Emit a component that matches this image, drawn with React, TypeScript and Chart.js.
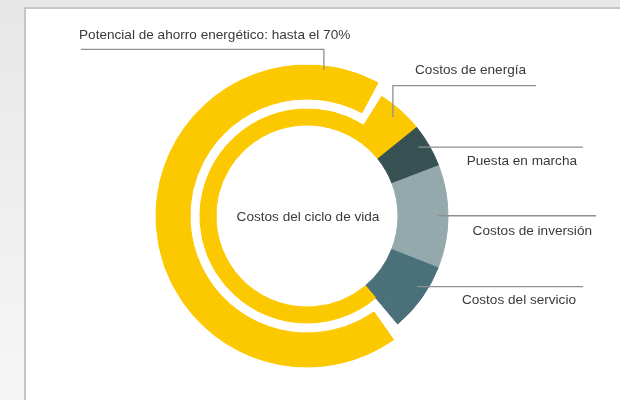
import { useEffect, useRef } from "react";
import { Chart, registerables } from "chart.js";

Chart.register(...registerables);

// ---- data ----
const costLabels = ["Costos de energía", "Puesta en marcha", "Costos de inversión", "Costos del servicio"];
const costShares = [75.3, 5.0, 11.8, 7.9]; // share of the life-cycle cost circle (%)
const savingsLabel = "Potencial de ahorro energético: hasta el 70%";
const savingsShare = 67.5; // outer savings arc (% of circle)
const savingsGaps = [1.4, 1.1]; // white gaps before / after the savings arc (% of circle)
const centerLabel = "Costos del ciclo de vida";

// ---- styles ----
const YELLOW = "#FCC800";
const costColors = [YELLOW, "#375052", "#93A9AC", "#4A707A"];
const NONE = "rgba(0,0,0,0)";
const FONT = '13.6px "Liberation Sans", Arial, sans-serif';
const TEXT = "#3a3a3a";
const LINE = "#8f8f8f";
// where along each segment the leader line attaches (fraction of its angular span)
const anchorFrac = [0.47, 0.4, 0.49, 0.39];

export default function App() {
  const ref = useRef<HTMLCanvasElement | null>(null);

  useEffect(() => {
    if (!ref.current) return;
    const others = costShares.slice(1);
    const otherColors = costColors.slice(1);
    const thinEnergy = savingsGaps[0] + savingsShare + savingsGaps[1];
    const thickEnergy = costShares[0] - thinEnergy;
    const othersSum = others.reduce((a, b) => a + b, 0);

    const ds = (data: number[], colors: string[], weight: number) => ({
      data,
      backgroundColor: colors,
      borderColor: colors,
      borderWidth: 1,
      weight,
    });

    const datasets = [
      ds([thickEnergy + othersSum, savingsGaps[0], savingsShare, savingsGaps[1]], [NONE, NONE, YELLOW, NONE], 10),
      ds([thickEnergy, ...others, savingsGaps[0], savingsShare, savingsGaps[1]], [YELLOW, ...otherColors, NONE, YELLOW, NONE], 24),
      ds([thickEnergy, ...others, thinEnergy], [YELLOW, ...otherColors, NONE], 10),
      ds([thickEnergy, ...others, thinEnergy], [YELLOW, ...otherColors, YELLOW], 16),
    ];

    const labelPlugin = {
      id: "labels",
      afterDraw(chart: any) {
        const ctx = chart.ctx as CanvasRenderingContext2D;
        const meta = chart.getDatasetMeta(1);
        const arcs = meta.data as any[];
        const cx = arcs[0].x;
        const cy = arcs[0].y;
        const anchor = (el: any, f: number) => {
          const a = el.startAngle + (el.endAngle - el.startAngle) * f;
          const r = (el.innerRadius + el.outerRadius) / 2 + 2;
          return { x: cx + r * Math.cos(a), y: cy + r * Math.sin(a) };
        };
        ctx.save();
        ctx.font = FONT;
        ctx.fillStyle = TEXT;
        ctx.strokeStyle = LINE;
        ctx.lineWidth = 1.3;
        ctx.textBaseline = "middle";

        // center
        ctx.textAlign = "center";
        ctx.fillText(centerLabel, cx + 1, cy + 1);

        // savings label (outer ring)
        const outerEl = chart.getDatasetMeta(0).data[2] as any;
        const sa = (-90 + 6.6) * Math.PI / 180;
        const sr = (outerEl.innerRadius + outerEl.outerRadius) / 2 + 1;
        const sx = cx + sr * Math.cos(sa);
        const sy = cy + sr * Math.sin(sa);
        ctx.beginPath();
        ctx.moveTo(81, 49.3);
        ctx.lineTo(sx, 49.3);
        ctx.lineTo(sx, sy);
        ctx.stroke();
        ctx.textAlign = "left";
        ctx.fillText(savingsLabel, 79, 35);

        // energy
        const e = anchor(arcs[0], anchorFrac[0]);
        ctx.beginPath();
        ctx.moveTo(e.x, e.y);
        ctx.lineTo(e.x, 85.7);
        ctx.lineTo(536, 85.7);
        ctx.stroke();
        ctx.textAlign = "left";
        ctx.fillText(costLabels[0], 415, 70.7);

        const rightEnds = [583, 596, 583];
        const textRight = [577, 592, 576];
        const textDy = [14, 15, 13.5];
        for (let i = 1; i < 4; i++) {
          const p = anchor(arcs[i], anchorFrac[i]);
          ctx.beginPath();
          ctx.moveTo(p.x, p.y);
          ctx.lineTo(rightEnds[i - 1], p.y);
          ctx.stroke();
          ctx.textAlign = "right";
          ctx.fillText(costLabels[i], textRight[i - 1], p.y + textDy[i - 1]);
        }
        ctx.restore();
      },
    };

    const chart = new Chart(ref.current, {
      type: "doughnut",
      data: { labels: [], datasets: datasets as any },
      options: {
        animation: false,
        responsive: false,
        events: [],
        radius: 151,
        cutout: (91 / 151) * 100 + "%",
        rotation: 32,
        layout: { padding: { left: 0, right: 6, top: 32, bottom: 0 } },
        plugins: { legend: { display: false }, tooltip: { enabled: false } },
      } as any,
      plugins: [labelPlugin],
    });
    return () => chart.destroy();
  }, []);

  return (
    <div
      style={{
        position: "absolute",
        left: 0,
        top: 0,
        width: 620,
        height: 400,
        overflow: "hidden",
        background: "linear-gradient(180deg, #e7e7e7 0%, #eeeeee 45%, #f6f6f6 100%)",
      }}
    >
      <div
        style={{
          position: "absolute",
          left: 24,
          top: 7,
          width: 700,
          height: 500,
          background: "#fff",
          border: "2px solid #c6c6c6",
        }}
      />
      <canvas
        ref={ref}
        width={620}
        height={400}
        style={{ position: "absolute", left: 0, top: 0, width: 620, height: 400 }}
      />
    </div>
  );
}
